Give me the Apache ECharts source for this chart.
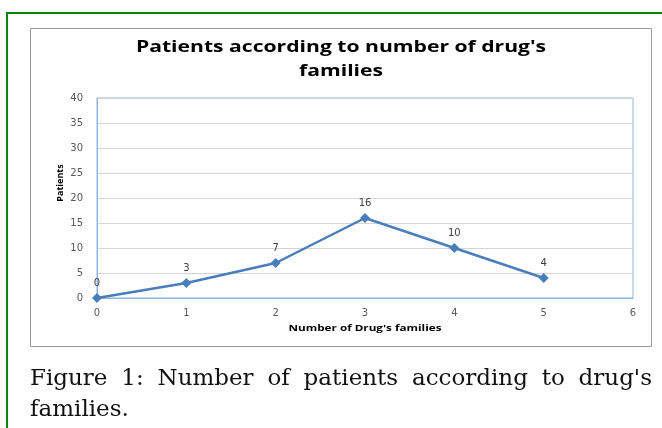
<!DOCTYPE html>
<html>
<head>
<meta charset="utf-8">
<script src="https://cdn.jsdelivr.net/npm/echarts@6/dist/echarts.min.js"></script>
<style>
  html, body { margin: 0; padding: 0; background: #fff; }
  #wrap { position: relative; width: 662px; height: 428px; overflow: hidden; }
  #chart { position: absolute; left: 0; top: 0; width: 662px; height: 428px; }
  #caption {
    position: absolute; left: 30px; top: 362px; width: 622px;
    font-family: "DejaVu Serif", serif; font-size: 23px; line-height: 31px;
    color: #111; text-align: justify; pointer-events: none;
  }
</style>
</head>
<body>
<div id="wrap">
  <div id="chart"></div>
  <div id="caption">Figure 1: Number of patients according to drug's families.</div>
</div>
<script>
// number of drug families and patient counts
var families = [0, 1, 2, 3, 4, 5];
var patients = [0, 3, 7, 16, 10, 4];

var points = families.map((f, i) => [f, patients[i]]);

var dom = document.getElementById("chart");
var myChart = echarts.init(dom);
var labelFont = 'DejaVu Sans';
var option = {
    animation: false,
    grid: {
        left: 97,
        right: 29,
        top: 98,
        bottom: 130,
        show: true,
        borderColor: '#8eb4e3',
        borderWidth: 1
    },
    graphic: [
        // green frame of the page
        { type: 'rect', shape: { x: 7, y: 13, width: 700, height: 500 },
          style: { fill: 'none', stroke: '#0e850e', lineWidth: 2 } },
        // chart area frame
        { type: 'rect', shape: { x: 30.5, y: 28.5, width: 621, height: 318 },
          style: { fill: 'none', stroke: '#9a9a9a', lineWidth: 1 } },
        // title (the original is stretched sideways)
        { type: 'text', x: 341, y: 47, scaleX: 1.32,
          style: { text: "Patients according to number of drug's", fontFamily: 'Open Sans', fontSize: 16,
                   fontWeight: 'bold', fill: '#000', align: 'center', verticalAlign: 'middle' } },
        { type: 'text', x: 341, y: 71, scaleX: 1.32,
          style: { text: 'families', fontFamily: 'Open Sans', fontSize: 16,
                   fontWeight: 'bold', fill: '#000', align: 'center', verticalAlign: 'middle' } },
        { type: 'text', x: 60, y: 183, rotation: Math.PI / 2,
          style: { text: 'Patients', fontFamily: 'Open Sans', fontSize: 9, fontWeight: 'bold',
                   fill: '#000', align: 'center', verticalAlign: 'middle' } },
        { type: 'text', x: 365, y: 328, scaleX: 1.3,
          style: { text: "Number of Drug's families", fontFamily: 'Open Sans', fontSize: 9, fontWeight: 'bold',
                   fill: '#000', align: 'center', verticalAlign: 'middle' } }
    ],
    xAxis: {
        type: 'value',
        min: 0,
        max: 6,
        interval: 1,
        axisLine: { lineStyle: { color: '#8eb4e3', width: 1 } },
        axisTick: { show: false },
        splitLine: { show: false },
        axisLabel: { fontFamily: labelFont, fontSize: 10, color: '#595959', margin: 10 }
    },
    yAxis: {
        type: 'value',
        min: 0,
        max: 40,
        interval: 5,
        axisLine: { show: true, lineStyle: { color: '#8eb4e3', width: 1 } },
        axisTick: { show: false },
        splitLine: { show: true, lineStyle: { color: '#d4d4d4', width: 1 } },
        axisLabel: { fontFamily: labelFont, fontSize: 10, color: '#595959', margin: 14 }
    },
    series: [{
        type: 'line',
        data: points,
        color: '#4a7ebb',
        lineStyle: { color: '#4a7ebb', width: 2.5 },
        symbol: 'diamond',
        symbolSize: 10,
        itemStyle: { color: '#4a7ebb' },
        label: {
            show: true,
            position: 'top',
            distance: 5,
            fontFamily: labelFont,
            fontSize: 10,
            color: '#404040',
            formatter: p => p.value[1]
        }
    }]
};
myChart.setOption(option, true);
</script>
</body>
</html>
